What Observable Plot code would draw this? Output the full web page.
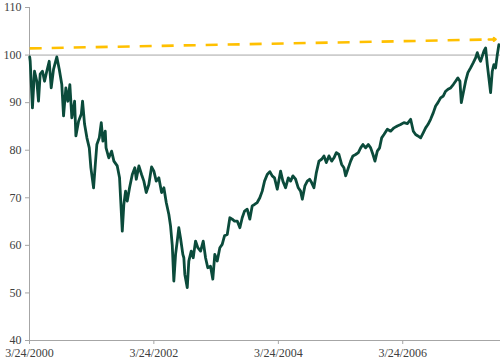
<!DOCTYPE html>
<html>
<head>
<meta charset="utf-8">
<script src="https://cdn.jsdelivr.net/npm/d3@7"></script>
<script src="https://cdn.jsdelivr.net/npm/@observablehq/plot@0.6"></script>
<style>
  html, body { margin: 0; padding: 0; background: #fff; }
  #chart svg { display: block; }
</style>
</head>
<body>
<div id="chart"></div>
<script>
// [decimal year, index value]
const series = [
  [2000.230, 99.6], [2000.238, 98.7], [2000.274, 88.9], [2000.307, 96.6], [2000.344, 94.5],
  [2000.371, 90.3], [2000.398, 96.0], [2000.435, 96.6], [2000.468, 94.5], [2000.504, 96.6],
  [2000.543, 98.7], [2000.575, 93.1], [2000.612, 97.0], [2000.665, 99.6], [2000.704, 97.0],
  [2000.745, 93.8], [2000.773, 87.2], [2000.810, 93.1], [2000.842, 90.3], [2000.874, 93.8],
  [2000.906, 86.8], [2000.950, 90.3], [2000.971, 83.0], [2001.014, 86.1], [2001.058, 87.6],
  [2001.078, 90.3], [2001.110, 85.5], [2001.148, 82.6], [2001.186, 80.5], [2001.212, 76.3],
  [2001.255, 72.1], [2001.283, 77.0], [2001.308, 81.2], [2001.347, 82.6], [2001.379, 85.8],
  [2001.405, 81.9], [2001.443, 84.0], [2001.456, 80.5], [2001.485, 79.1], [2001.501, 78.4],
  [2001.545, 79.8], [2001.582, 77.7], [2001.636, 76.7], [2001.673, 74.2], [2001.717, 63.0],
  [2001.742, 68.6], [2001.770, 71.4], [2001.797, 69.3], [2001.834, 72.1], [2001.878, 74.9],
  [2001.919, 76.3], [2001.942, 73.9], [2001.984, 76.7], [2002.027, 74.9], [2002.064, 73.5],
  [2002.102, 71.1], [2002.144, 72.8], [2002.188, 76.5], [2002.225, 75.6], [2002.263, 73.5],
  [2002.305, 74.2], [2002.349, 71.1], [2002.386, 72.1], [2002.424, 69.0], [2002.466, 66.5],
  [2002.493, 64.1], [2002.521, 60.0], [2002.546, 52.5], [2002.574, 58.1], [2002.601, 60.9],
  [2002.626, 63.7], [2002.654, 61.5], [2002.691, 58.1], [2002.707, 57.4], [2002.723, 53.9],
  [2002.762, 51.1], [2002.787, 56.7], [2002.826, 58.8], [2002.858, 57.4], [2002.895, 60.9],
  [2002.932, 59.5], [2002.976, 58.8], [2003.019, 60.9], [2003.056, 57.4], [2003.092, 55.3],
  [2003.136, 55.6], [2003.173, 52.9], [2003.205, 58.1], [2003.244, 56.7], [2003.286, 59.5],
  [2003.324, 60.2], [2003.361, 62.0], [2003.405, 62.3], [2003.447, 65.8], [2003.485, 65.5],
  [2003.522, 65.1], [2003.566, 65.1], [2003.608, 63.7], [2003.646, 65.8], [2003.683, 67.2],
  [2003.726, 67.6], [2003.768, 65.5], [2003.807, 68.3], [2003.844, 68.6], [2003.887, 69.0],
  [2003.929, 70.0], [2003.968, 71.4], [2004.005, 73.5], [2004.048, 74.9], [2004.090, 75.5],
  [2004.128, 74.6], [2004.165, 74.2], [2004.209, 71.8], [2004.262, 75.6], [2004.299, 73.5],
  [2004.342, 72.1], [2004.386, 74.2], [2004.423, 73.5], [2004.460, 74.6], [2004.503, 73.9],
  [2004.546, 72.1], [2004.583, 71.4], [2004.611, 69.7], [2004.652, 72.5], [2004.691, 73.5],
  [2004.728, 73.9], [2004.760, 73.2], [2004.797, 72.1], [2004.836, 75.3], [2004.878, 77.7],
  [2004.921, 78.1], [2004.958, 78.8], [2004.996, 77.4], [2005.038, 78.8], [2005.082, 77.7],
  [2005.119, 78.4], [2005.157, 79.5], [2005.199, 79.1], [2005.242, 77.0], [2005.279, 76.3],
  [2005.307, 74.6], [2005.350, 76.3], [2005.387, 77.7], [2005.424, 78.8], [2005.468, 79.1],
  [2005.511, 79.5], [2005.548, 80.5], [2005.585, 81.2], [2005.628, 80.5], [2005.672, 81.2],
  [2005.709, 80.5], [2005.746, 79.1], [2005.778, 77.7], [2005.816, 79.8], [2005.853, 80.5],
  [2005.886, 82.6], [2005.923, 83.3], [2005.977, 84.4], [2006.030, 84.0], [2006.084, 84.7],
  [2006.138, 85.1], [2006.191, 85.4], [2006.244, 85.8], [2006.299, 85.6], [2006.352, 86.5],
  [2006.395, 84.0], [2006.432, 83.3], [2006.469, 83.0], [2006.513, 82.6], [2006.556, 83.7],
  [2006.593, 84.7], [2006.630, 85.4], [2006.673, 86.5], [2006.717, 87.9], [2006.754, 89.3],
  [2006.791, 90.0], [2006.834, 91.0], [2006.878, 91.4], [2006.915, 92.4], [2006.952, 92.8],
  [2006.995, 93.1], [2007.038, 93.8], [2007.075, 94.5], [2007.112, 95.2], [2007.145, 94.5],
  [2007.167, 90.0], [2007.199, 92.1], [2007.236, 94.5], [2007.273, 96.3], [2007.316, 97.3],
  [2007.360, 98.4], [2007.397, 99.4], [2007.424, 100.5], [2007.450, 99.4], [2007.477, 98.7],
  [2007.505, 99.8], [2007.530, 100.8], [2007.558, 101.5], [2007.585, 98.0], [2007.610, 95.2],
  [2007.638, 92.1], [2007.665, 96.6], [2007.691, 98.0], [2007.718, 97.3], [2007.746, 100.1],
  [2007.771, 102.2]
];
const yTicks = [40, 50, 60, 70, 80, 90, 100, 110];
const xTickLabels = ["3/24/2000", "3/24/2002", "3/24/2004", "3/24/2006"];
const xDomain = ["2000-03-24", "2007-10-19"];
const referenceLevel = 100;
const trend = [[2000.23, 101.4], [2007.72, 103.3]];

function toDate(y) {
  const Y = Math.floor(y);
  const s = Date.UTC(Y, 0, 1), e = Date.UTC(Y + 1, 0, 1);
  return new Date(s + (y - Y) * (e - s));
}
function parseMDY(s) {
  const [m, d, y] = s.split("/").map(Number);
  return new Date(Date.UTC(y, m - 1, d));
}
const data = series.map(([t, v]) => ({date: toDate(t), value: v}));
const tickDates = xTickLabels.map(parseMDY);
const domain = xDomain.map(s => new Date(s + "T00:00:00Z"));
const trendRows = trend.map(([t, v]) => ({date: toDate(t), value: v}));
// short solid segment at the end for the arrow head
const k = 0.985;
const headStart = {
  date: toDate(trend[0][0] + k * (trend[1][0] - trend[0][0])),
  value: trend[0][1] + k * (trend[1][1] - trend[0][1])
};

const gray = "#a6a6a6";
const chart = Plot.plot({
  width: 500,
  height: 362,
  marginLeft: 29,
  marginRight: 0,
  marginTop: 7,
  marginBottom: 22,
  style: {fontFamily: "'Liberation Serif', 'DejaVu Serif', serif", fontSize: "12px", color: "#404040", background: "#fff"},
  x: {type: "utc", domain},
  y: {domain: [40, 110]},
  marks: [
    Plot.ruleY([referenceLevel], {stroke: gray, strokeWidth: 1}),
    Plot.ruleX([domain[0]], {stroke: gray, strokeWidth: 1}),
    Plot.ruleY([40], {stroke: gray, strokeWidth: 1}),
    Plot.axisY({ticks: yTicks, tickSize: 4, tickPadding: 4, stroke: gray, label: null}),
    Plot.axisX({ticks: tickDates, tickFormat: (d, i) => xTickLabels[i], tickSize: 4, tickPadding: 4, stroke: gray, label: null}),
    Plot.line(data, {x: "date", y: "value", stroke: "#0b4b3b", strokeWidth: 2.8, strokeLinejoin: "round"}),
    Plot.link([trendRows], {x1: d => d[0].date, y1: d => d[0].value, x2: () => headStart.date, y2: () => headStart.value,
      stroke: "#ffc000", strokeWidth: 2.6, strokeDasharray: "12,10"}),
    Plot.arrow([headStart], {x1: "date", y1: "value", x2: () => trendRows[1].date, y2: () => trendRows[1].value,
      stroke: "#ffc000", strokeWidth: 2.4, headLength: 9, headAngle: 70})
  ]
});
document.getElementById("chart").appendChild(chart);
</script>
</body>
</html>
